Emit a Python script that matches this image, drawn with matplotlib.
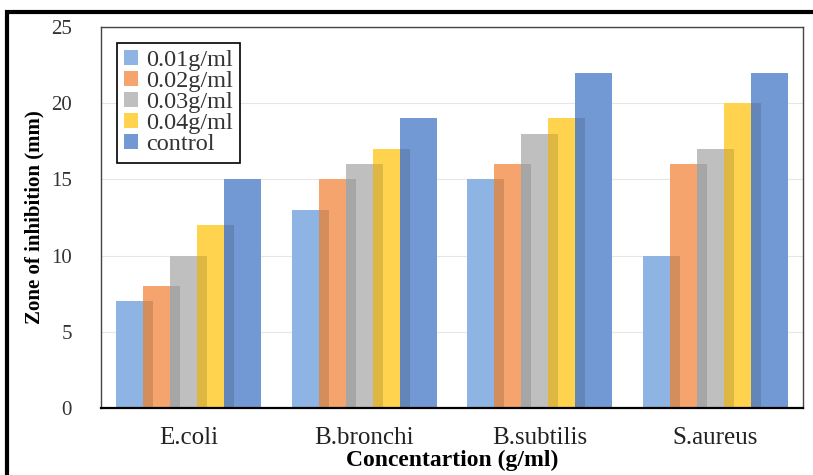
import matplotlib.pyplot as plt
from matplotlib.patches import Rectangle
import numpy as np

bacteria = ['E.coli', 'B.bronchi', 'B.subtilis', 'S.aureus']
series = ['0.01g/ml', '0.02g/ml', '0.03g/ml', '0.04g/ml', 'control']
c001 = [7, 13, 15, 10]
c002 = [8, 15, 16, 16]
c003 = [10, 16, 18, 17]
c004 = [12, 17, 19, 20]
control = [15, 19, 22, 22]
colors = ['#8DB4E2', '#F4A46C', '#BFBFBF', '#FFD34D', '#7399D4']

plt.rcParams['font.family'] = ['Liberation Serif', 'DejaVu Serif']

fig = plt.figure(figsize=(8.13, 4.75), dpi=100)
ax = fig.add_axes([0.1242, 0.1411, 0.8635, 0.8021])

values = [c001, c002, c003, c004, control]
x = np.arange(len(bacteria))
step = 0.154
width = 0.211
for i, (name, vals) in enumerate(zip(series, values)):
    ax.bar(x + (i - 2) * step, vals, width, color=colors[i], label=name, zorder=2)

# darker strip where each bar overlaps the previous one
for i in range(1, len(values)):
    h = np.minimum(values[i - 1], values[i])
    left = x + (i - 2) * step - width / 2
    right = x + (i - 3) * step + width / 2
    ax.bar((left + right) / 2, h, right - left, color='black', alpha=0.13,
           linewidth=0, zorder=3)

ax.set_xlim(-0.5, 3.5)
ax.set_ylim(0, 25)
ax.set_yticks([0, 5, 10, 15, 20, 25])
ax.set_xticks(x)
ax.set_xticklabels(bacteria, fontsize=18)
ax.tick_params(axis='y', length=0, pad=21, labelsize=15, colors='#333333')
ax.tick_params(axis='x', length=0, pad=14, labelcolor='#222222')
ax.yaxis.grid(True, color='#E6E6E6', linewidth=0.8, zorder=0)
ax.set_axisbelow(True)
for s in ['top', 'left', 'right']:
    ax.spines[s].set_color('#444444')
    ax.spines[s].set_linewidth(1.0)
ax.spines['bottom'].set_color('black')
ax.spines['bottom'].set_linewidth(1.6)

ax.set_xlabel('Concentartion (g/ml)', fontsize=17, fontweight='bold', labelpad=0)
ax.set_ylabel('Zone of inhibition (mm)', fontsize=15, fontweight='bold', labelpad=5)

leg = ax.legend(loc='upper left', bbox_to_anchor=(0.023, 0.958), borderaxespad=0,
                fontsize=17.5, fancybox=False, edgecolor='black', framealpha=1,
                handlelength=0.55, handleheight=0.55, handletextpad=0.35,
                labelspacing=0.0, borderpad=0.3)
leg.get_frame().set_linewidth(1.2)
for t in leg.get_texts():
    t.set_color('#333333')

fig.patches.append(Rectangle((7 / 813, -0.1), 1.2, 1 - 12 / 475 + 0.1,
                             transform=fig.transFigure, fill=False,
                             edgecolor='black', linewidth=3))

fig.savefig('out.png', dpi=100)
